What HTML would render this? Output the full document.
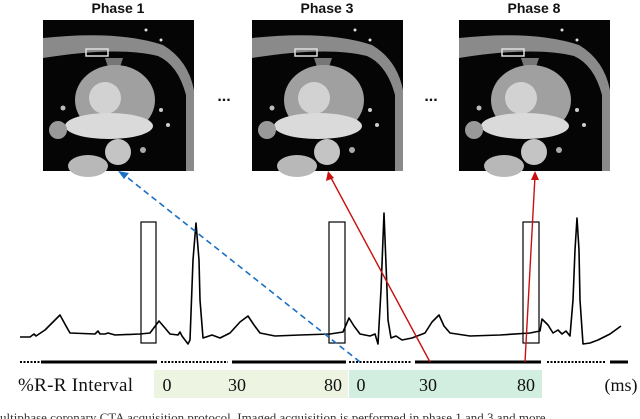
<!DOCTYPE html>
<html><head><meta charset="utf-8"><style>
body{margin:0;background:#fff;width:640px;height:419px;overflow:hidden;}
svg{display:block}
</style></head><body>
<svg width="640" height="419" viewBox="0 0 640 419">
<defs>
<g id="ct">
<rect x="0" y="0" width="151" height="151" fill="#050505"/>
<path d="M0,18 Q75,10 120,25 Q145,40 151,70 L151,151 L143,151 L143,75 Q135,45 115,36 Q75,26 0,38 Z" fill="#8a8a8a"/>
<rect x="43" y="29" width="22" height="7" fill="none" stroke="#e0e0e0" stroke-width="1.5"/>
<circle cx="103" cy="10" r="1.5" fill="#ddd"/><circle cx="118" cy="20" r="1.5" fill="#ddd"/>
<path d="M62,38 L80,38 L76,50 L66,50 Z" fill="#777"/>
<ellipse cx="72" cy="80" rx="40" ry="35" fill="#a0a0a0"/>
<circle cx="62" cy="78" r="16" fill="#d2d2d2"/>
<ellipse cx="66" cy="106" rx="44" ry="13" fill="#dadada"/>
<circle cx="75" cy="132" r="13" fill="#c4c4c4"/>
<ellipse cx="45" cy="146" rx="20" ry="11" fill="#b8b8b8"/>
<circle cx="15" cy="110" r="9" fill="#999"/>
<circle cx="118" cy="90" r="2" fill="#ccc"/><circle cx="125" cy="105" r="2" fill="#ccc"/>
<circle cx="20" cy="88" r="2.5" fill="#bbb"/><circle cx="100" cy="130" r="3" fill="#aaa"/>
</g>
</defs>
<g font-family="Liberation Sans, sans-serif" font-weight="bold" font-size="14" text-anchor="middle" fill="#111">
<text x="118" y="13">Phase 1</text>
<text x="327" y="13">Phase 3</text>
<text x="534" y="13">Phase 8</text>
</g>
<use href="#ct" x="43" y="20"/>
<use href="#ct" x="252" y="20"/>
<use href="#ct" x="459" y="20"/>
<g font-family="Liberation Sans, sans-serif" font-size="16" font-weight="bold" fill="#111" text-anchor="middle">
<text x="224" y="101">...</text>
<text x="431" y="101">...</text>
</g>
<path fill="none" stroke="#000" stroke-width="1.6" stroke-linejoin="round"
d="M20,337 L30,337 L34,334 L36,336 L45,330 L60,315 L66,326 L70,333 L95,334 L98,331 L100,334 L105,334 L108,333 L115,335 L140,334 L150,333 L159,321 L165,328 L170,334 L178,335 L180,332 L182,336 L188,344 L190,340 L193,260 L196,223 L199,260 L200,300 L203,338 L206,337 L212,335 L220,338 L230,333 L240,322 L248,316 L254,325 L260,333 L275,336 L300,335 L330,334 L343,332 L349,318 L354,326 L360,334 L370,336 L375,334 L378,344 L381,290 L384,213 L387,290 L388,320 L391,338 L396,336 L402,340 L412,338 L425,333 L432,322 L439,315 L444,326 L450,333 L470,336 L500,335 L530,333 L540,331 L542,319 L548,325 L553,333 L558,330 L562,334 L566,331 L570,336 L573,300 L575,250 L577,218 L579,250 L580,300 L583,344 L590,343 L598,340 L610,334 L621,326"/>
<g fill="none" stroke="#000" stroke-width="1.2">
<rect x="141" y="222" width="15" height="121"/>
<rect x="329" y="222" width="16" height="121"/>
<rect x="523" y="222" width="16" height="121"/>
</g>
<g stroke="#000">
<line x1="20" y1="362" x2="41" y2="362" stroke-width="2" stroke-dasharray="2,1.5"/>
<line x1="41" y1="362" x2="157" y2="362" stroke-width="3"/>
<line x1="161" y1="362" x2="228" y2="362" stroke-width="2" stroke-dasharray="2,1.5"/>
<line x1="232" y1="362" x2="346" y2="362" stroke-width="3"/>
<line x1="349" y1="362" x2="412" y2="362" stroke-width="2" stroke-dasharray="2,1.5"/>
<line x1="415" y1="362" x2="541" y2="362" stroke-width="3"/>
<line x1="547" y1="362" x2="606" y2="362" stroke-width="2" stroke-dasharray="2,1.5"/>
<line x1="610" y1="362" x2="628" y2="362" stroke-width="3"/>
</g>
<rect x="154" y="370" width="194" height="28" fill="#eef4e2"/>
<rect x="349" y="370" width="193" height="28" fill="#d2eee0"/>
<g font-family="Liberation Serif, serif" font-size="18" fill="#111">
<text x="18" y="391" font-size="19" textLength="115">%R-R Interval</text>
<text x="167" y="391" text-anchor="middle">0</text>
<text x="237" y="391" text-anchor="middle">30</text>
<text x="333" y="391" text-anchor="middle">80</text>
<text x="361" y="391" text-anchor="middle">0</text>
<text x="428" y="391" text-anchor="middle">30</text>
<text x="526" y="391" text-anchor="middle">80</text>
<text x="621" y="391" text-anchor="middle">(ms)</text>
</g>
<g>
<line x1="360" y1="362" x2="123" y2="174" stroke="#1a6fc4" stroke-width="1.6" stroke-dasharray="6,4"/>
<polygon points="118,171 129,173 124,179" fill="#1a6fc4"/>
<line x1="430" y1="362" x2="330" y2="176" stroke="#c81010" stroke-width="1.4"/>
<polygon points="328,171 326,181 334,178" fill="#c81010"/>
<line x1="525" y1="362" x2="535" y2="176" stroke="#c81010" stroke-width="1.4"/>
<polygon points="535,171 531,180 539,180" fill="#c81010"/>
</g>
<text x="0" y="422" font-family="Liberation Serif, serif" font-size="13" fill="#333">ultiphase coronary CTA acquisition protocol. Imaged acquisition is performed in phase 1 and 3 and more</text>
</svg>
</body></html>
